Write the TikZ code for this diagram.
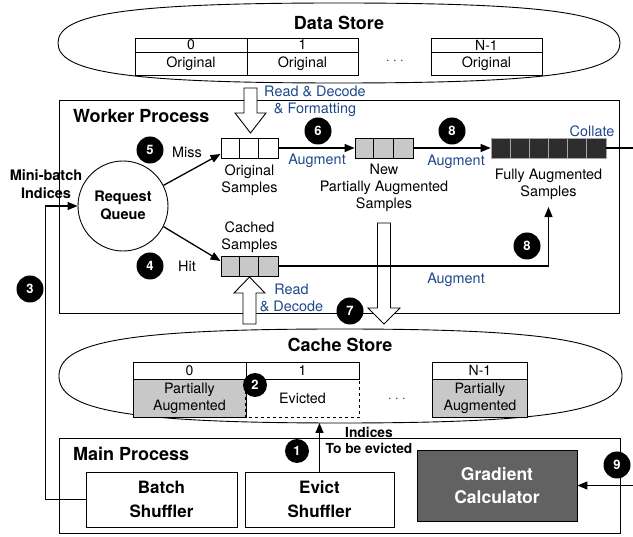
\documentclass[tikz,border=0pt]{standalone}
\usepackage{fontspec}
\setmainfont{TeX Gyre Heros}
\usetikzlibrary{arrows.meta,calc}
\definecolor{noteblue}{RGB}{28,72,138}
\definecolor{partgray}{RGB}{200,200,200}
\definecolor{fullgray}{RGB}{45,45,45}
\definecolor{calcgray}{RGB}{98,98,98}

\newcommand{\celldots}{\textperiodcentered\hspace{3pt}\textperiodcentered\hspace{3pt}\textperiodcentered}

\tikzset{
  ttl/.style={font=\fontsize{18}{20}\selectfont\bfseries, inner sep=0pt},
  lbl/.style={font=\fontsize{14.4}{17}\selectfont, align=center, inner sep=1pt},
  blbl/.style={lbl, text=noteblue},
  bold/.style={font=\fontsize{14.5}{18}\selectfont\bfseries, align=center, inner sep=0pt},
  num/.style={circle, fill=black, text=white, inner sep=0pt, minimum size=27pt,
    font=\fontsize{13}{13}\selectfont\bfseries},
  smallnum/.style={num, minimum size=24pt},
  arr/.style={-{Triangle[length=10pt,width=8pt]}, line width=1.3pt},
  plain/.style={line width=1.3pt},
  frame/.style={draw, line width=0.9pt},
  queue/.style={draw, line width=0.9pt, minimum height=20pt, inner sep=0pt},
  fcell/.style={draw=white!65!black, fill=fullgray, line width=0.8pt,
    minimum width=19.17pt, minimum height=20pt, inner sep=0pt},
  hcell/.style={draw, line width=0.9pt, inner sep=0pt,
    font=\fontsize{14}{16}\selectfont},
  vcell/.style={hcell, align=center, font=\fontsize{14.3}{17}\selectfont},
  blockarrow/.style={draw, fill=white, line width=0.9pt},
  shuffler/.style={draw, line width=0.9pt, fill=white, minimum width=151pt,
    minimum height=55pt, inner sep=0pt, align=center,
    font=\fontsize{17}{24}\selectfont\bfseries},
}

\begin{document}
\begin{tikzpicture}[x=1pt,y=-1pt]
\useasboundingbox (0,0) rectangle (633,537);

% ---------- Data Store ----------
\draw[line width=0.9pt] (58,43) .. controls (58,14) and (125,3) .. (339,3)
  .. controls (553,3) and (620,14) .. (620,43)
  .. controls (620,72) and (553,83) .. (339,83)
  .. controls (125,83) and (58,72) .. cycle;
\node[ttl] (dstitle) at (339,23) {Data Store};
\node[hcell, minimum width=112pt, minimum height=14pt] (d0h) at (191,45) {0};
\node[vcell, minimum width=112pt, minimum height=23pt] (d0v) at (191,63.5) {Original};
\node[hcell, minimum width=111pt, minimum height=14pt] (d1h) at (302.5,45) {1};
\node[vcell, minimum width=111pt, minimum height=23pt] (d1v) at (302.5,63.5) {Original};
\node[hcell, minimum width=111pt, minimum height=14pt] (dnh) at (486.5,45) {N-1};
\node[vcell, minimum width=111pt, minimum height=23pt] (dnv) at (486.5,63.5) {Original};
\node[lbl, text=noteblue] (ddots) at (395,62) {\celldots};

% ---------- Worker Process ----------
\draw[frame] (59,100) rectangle (619,313);
\node[ttl, anchor=west] (wptitle) at (73,116) {Worker Process};

% read from the data store
\draw[blockarrow] (244,88) -- (257,88) -- (257,113) -- (266,113) -- (250.5,133)
  -- (235,113) -- (244,113) -- cycle;
\node[blbl] (rdf) at (315,101) {Read \& Decode\\\& Formatting};

\node[circle, draw, line width=0.9pt, minimum size=90pt, inner sep=0pt,
  font=\fontsize{14.5}{18}\selectfont\bfseries, align=center] (rq) at (123,206)
  {Request\\Queue};

% queues
\node[queue, minimum width=57pt, fill=white] (orig) at (249.5,148) {};
\foreach \k in {1,2}
  \draw[line width=0.9pt] ($(orig.north west)+(\k*19,0)$) -- ($(orig.south west)+(\k*19,0)$);
\node[lbl] (origlbl) at (249.5,180.5) {Original\\Samples};

\node[queue, minimum width=57pt, fill=partgray] (cached) at (249.5,266) {};
\foreach \k in {1,2}
  \draw[line width=0.9pt] ($(cached.north west)+(\k*19,0)$) -- ($(cached.south west)+(\k*19,0)$);
\node[lbl] (cachedlbl) at (249.5,237.5) {Cached\\Samples};

\node[queue, minimum width=58pt, fill=partgray] (new) at (384,148) {};
\foreach \k in {1,2}
  \draw[line width=0.9pt] ($(new.north west)+(\k*19.33,0)$) -- ($(new.south west)+(\k*19.33,0)$);
\node[lbl] (newlbl) at (384,188) {New\\Partially Augmented\\Samples};

\foreach \k in {0,...,5}
  \node[fcell] (f\k) at (500.6+\k*19.17,148) {};
\node[lbl] (fulllbl) at (548.5,184.5) {Fully Augmented\\Samples};

% read from the cache store
\draw[blockarrow] (243,324) -- (256,324) -- (256,293) -- (265,293) -- (249.5,277)
  -- (234,293) -- (243,293) -- cycle;
\node[blbl] (rd) at (291.5,298) {Read\\\& Decode};

% write to the cache store
\draw[blockarrow] (377.5,223) -- (390.5,223) -- (390.5,308) -- (400,308) -- (384,324)
  -- (368,308) -- (377.5,308) -- cycle;

% connectors inside the worker
\draw[arr] (rq.27) -- ($(orig.west)+(0,6)$);
\draw[arr] (rq.-27) -- ($(cached.west)+(0,-5)$);
\node[lbl] (miss) at (187,152) {Miss};
\node[lbl] (hit) at (187,266) {Hit};

\draw[arr] (orig.east) -- (new.west);
\node[blbl] (aug1) at (317,161) {Augment};
\draw[arr] (new.east) -- (f0.west);
\node[blbl] (aug2) at (456,162) {Augment};
\draw[arr] (cached.east) -| ($(fulllbl.south)+(0,6)$);
\node[blbl] (aug3) at (456,280) {Augment};

\coordinate (collateout) at (633,148);
\draw[plain] (f5.east) -- (collateout);
\node[blbl] (collate) at (592,131) {Collate};

% ---------- Cache Store ----------
\draw[line width=0.9pt] (59,376) .. controls (59,342) and (125,329) .. (340,329)
  .. controls (555,329) and (622,342) .. (622,376)
  .. controls (622,410) and (555,423) .. (340,423)
  .. controls (125,423) and (59,410) .. cycle;
\coordinate (cachebottom) at (319.5,423);
\node[ttl] (cstitle) at (340,345) {Cache Store};
\node[hcell, minimum width=113pt, minimum height=17pt] (c0h) at (189.5,370.5) {0};
\node[vcell, minimum width=113pt, minimum height=38pt, fill=partgray] (c0v) at (189.5,398) {Partially\\Augmented};
\node[hcell, minimum width=113pt, minimum height=17pt] (c1h) at (302.5,370.5) {1};
\node[vcell, draw=none, minimum width=113pt, minimum height=38pt] (c1v) at (302.5,398) {Evicted};
\draw[line width=0.9pt, dashed] (c1v.north west) -- (c1v.south west) -- (c1v.south east) -- (c1v.north east);
\node[hcell, minimum width=95pt, minimum height=17pt] (cnh) at (480,370.5) {N-1};
\node[vcell, minimum width=95pt, minimum height=38pt, fill=partgray] (cnv) at (480,398) {Partially\\Augmented};
\node[lbl, text=noteblue] (cdots) at (397,400) {\celldots};

% ---------- Main Process ----------
\draw[frame] (59,438) rectangle (620,533);
\node[ttl, anchor=west] (mptitle) at (73,454) {Main Process};
\node[shuffler] (batch) at (161.5,499.5) {Batch\\Shuffler};
\node[shuffler, minimum width=149pt] (evict) at (319.5,499.5) {Evict\\Shuffler};
\node[shuffler, fill=calcgray, text=white, minimum width=160pt, minimum height=71pt,
  font=\fontsize{17.5}{23}\selectfont\bfseries] (grad) at (497,485.5) {Gradient\\Calculator};

\draw[arr] (evict.north) -- (cachebottom);
\node[font=\fontsize{13.8}{16}\selectfont\bfseries, align=center, inner sep=0pt]
  (evtxt) at (369,440) {Indices\\To be evicted};

\coordinate (gradin) at (633,485.5);
\draw[arr] (gradin) -- (grad.east);

% mini-batch indices back to the request queue
\draw[arr] (batch.west) -- ++(-40,0) |- (rq.west);
\node[bold] (mbtxt) at (46,184) {Mini-batch\\Indices};

% ---------- step numbers ----------
\node[num] (n5) at (150,150) {5};
\node[num] (n4) at (150,266) {4};
\node[num] (n3) at (30,289) {3};
\node[num] (n6) at (318,131) {6};
\node[num] (n8a) at (452,131) {8};
\node[num] (n8b) at (527,246) {8};
\node[num] (n7) at (350,311) {7};
\node[smallnum] (n2) at (255,385) {2};
\node[smallnum] (n1) at (297,451) {1};
\node[num] (n9) at (617,465) {9};
\end{tikzpicture}
\end{document}
